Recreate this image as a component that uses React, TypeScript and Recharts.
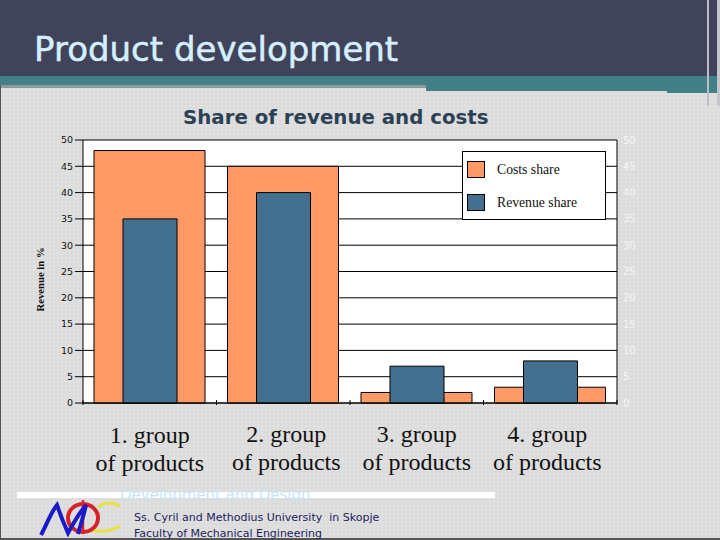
import React from "react";
import { Bar, BarChart, CartesianGrid, Legend, XAxis, YAxis } from "recharts";

const groups = ["1. group", "2. group", "3. group", "4. group"];
const costsShare = [48, 45, 2, 3];
const revenueShare = [35, 40, 7, 8];
const yTicks = [0, 5, 10, 15, 20, 25, 30, 35, 40, 45, 50];

const COST = "#ff9966";
const REVENUE = "#44708f";

const data = groups.map((group, i) => ({
  group,
  costs: costsShare[i],
  revenue: revenueShare[i],
}));

// the slide's labels don't sit exactly on the band centres
const labelShift = [
  { dx: 0, dy: 1 },
  { dx: 3, dy: 0 },
  { dx: 0, dy: 0 },
  { dx: -3, dy: 0 },
];

// tick marks sit between the groups, not under them
function GroupTick({ x, y, payload, index }: any) {
  const s = labelShift[index] || { dx: 0, dy: 0 };
  const half = payload.offset || 0;
  return (
    <g>
      <line x1={x + half} x2={x + half} y1={y - 11} y2={y - 6} stroke="#000" />
      {index === 0 && <line x1={x - half} x2={x - half} y1={y - 11} y2={y - 6} stroke="#000" />}
      <text
        x={x + s.dx}
        y={y + s.dy}
        textAnchor="middle"
        fontFamily="'Liberation Serif', serif"
        fontSize={24}
        fill="#111"
      >
        <tspan x={x + s.dx} dy={31}>{payload.value}</tspan>
        <tspan x={x + s.dx} dy={28}>of products</tspan>
      </text>
    </g>
  );
}

function LegendBox() {
  const rows = [
    { name: "Costs share", color: COST },
    { name: "Revenue share", color: REVENUE },
  ];
  return (
    <div
      style={{
        width: 142,
        height: 67,
        background: "#fff",
        border: "1px solid #000",
        position: "relative",
        fontFamily: "'Liberation Serif', serif",
        fontSize: 13.7,
        color: "#111",
      }}
    >
      {rows.map((r, i) => (
        <div key={r.name} style={{ position: "absolute", left: 4, top: 9 + i * 33, display: "flex", alignItems: "center" }}>
          <span style={{ width: 16, height: 15, background: r.color, border: "1px solid #000", display: "inline-block" }} />
          <span style={{ marginLeft: 12 }}>{r.name}</span>
        </div>
      ))}
    </div>
  );
}

function Logo() {
  return (
    <svg width={90} height={44} style={{ position: "absolute", left: 36, top: 496 }}>
      <path d="M84 10 C72 4 66 8 62 11" fill="none" stroke="#e6e23c" strokeWidth={3} />
      <path d="M84 30 C74 36 62 36 56 34" fill="none" stroke="#e6e23c" strokeWidth={3} />
      <ellipse cx={47} cy={22} rx={15} ry={14} fill="none" stroke="#d8222a" strokeWidth={4} />
      <line x1={47} y1={4} x2={47} y2={38} stroke="#d8222a" strokeWidth={2.5} />
      <path d="M5 39 C10 30 15 16 21 9 C24 18 28 28 32 37 C38 26 44 16 50 9 C48 18 45 28 42 38" fill="none" stroke="#1a1ac8" strokeWidth={4} />
    </svg>
  );
}

export default function App() {
  return (
    <div
      style={{
        position: "absolute",
        left: 0,
        top: 0,
        width: 720,
        height: 540,
        overflow: "hidden",
        backgroundColor: "#dcdcdc",
        backgroundImage: "radial-gradient(#e2e2e2 1px, transparent 1px)",
        backgroundSize: "4px 4px",
      }}
    >
      <div style={{ position: "absolute", left: 0, top: 0, width: 720, height: 76, background: "#41435a" }} />
      <div style={{ position: "absolute", left: 0, top: 76, width: 720, height: 9, background: "#437f86" }} />
      <div style={{ position: "absolute", left: 0, top: 85, width: 426, height: 3, background: "#8a9ca0" }} />
      <div style={{ position: "absolute", left: 426, top: 85, width: 294, height: 6, background: "#437f86" }} />
      <div style={{ position: "absolute", left: 667, top: 91, width: 53, height: 2, background: "#437f86" }} />
      <div style={{ position: "absolute", left: 707, top: 0, width: 2, height: 106, background: "#b9bcc6" }} />
      <div style={{ position: "absolute", left: 717, top: 0, width: 3, height: 106, background: "#c4c6ce" }} />
      <div style={{ position: "absolute", left: 0, top: 85, width: 1, height: 455, background: "#555" }} />
      <div style={{ position: "absolute", left: 0, top: 538, width: 720, height: 2, background: "#555" }} />

      <div style={{ position: "absolute", left: 34, top: 29, fontFamily: "'DejaVu Sans', sans-serif", fontSize: 34, color: "#d4efff", whiteSpace: "nowrap", WebkitTextStroke: "0.5px #d4efff" }}>
        Product development
      </div>
      <div style={{ position: "absolute", left: 183, top: 106, fontFamily: "'DejaVu Sans', sans-serif", fontWeight: 700, fontSize: 19.8, color: "#2c4254", whiteSpace: "nowrap" }}>
        Share of revenue and costs
      </div>

      <div style={{ position: "absolute", left: 0, top: 130 }}>
        <BarChart
          width={680}
          height={350}
          data={data}
          margin={{ top: 10, right: 33, bottom: 0, left: 32 }}
        >
          <CartesianGrid vertical={false} stroke="#000" fill="#fff" syncWithTicks yAxisId="left" />
          <XAxis
            xAxisId="cost"
            dataKey="group"
            height={77}
            axisLine={{ stroke: "#000" }}
            tickLine={false}
            interval={0}
            tick={<GroupTick />}
          />
          <XAxis xAxisId="rev" dataKey="group" hide />
          <YAxis
            yAxisId="left"
            domain={[0, 50]}
            ticks={yTicks}
            width={51}
            interval={0}
            tickSize={8}
            stroke="#000"
            tick={{ fill: "#111", fontSize: 9.5, fontFamily: "'DejaVu Sans', sans-serif" }}
            label={{
              value: "Revenue in  %",
              angle: -90,
              position: "insideLeft",
              offset: 8,
              dy: 40,
              fill: "#111",
              fontSize: 10.7,
              fontWeight: 700,
              fontFamily: "'Liberation Serif', serif",
            }}
          />
          <YAxis
            yAxisId="right"
            orientation="right"
            domain={[0, 50]}
            ticks={yTicks}
            width={30}
            interval={0}
            tickSize={0}
            tickMargin={6}
            axisLine={{ stroke: "#000" }}
            tick={{ fill: "#f4f4f4", fontSize: 10, fontFamily: "'DejaVu Sans', sans-serif" }}
          />
          <Bar
            dataKey="costs"
            name="Costs share"
            xAxisId="cost"
            yAxisId="left"
            barSize={111}
            fill={COST}
            stroke="#000"
            isAnimationActive={false}
          />
          <Bar
            dataKey="revenue"
            name="Revenue share"
            xAxisId="rev"
            yAxisId="right"
            barSize={54}
            fill={REVENUE}
            stroke="#000"
            isAnimationActive={false}
          />
          <Legend
            layout="horizontal"
            verticalAlign="middle"
            content={<LegendBox />}
            wrapperStyle={{ left: 462, top: 21, width: 144, height: 69, bottom: "auto" }}
          />
        </BarChart>
      </div>

      <div style={{ position: "absolute", left: 17, top: 492, width: 478, height: 6, background: "#fff" }} />
      <div style={{ position: "absolute", left: 120, top: 486, fontFamily: "'DejaVu Sans', sans-serif", fontSize: 15, color: "#c8e4f4", whiteSpace: "nowrap" }}>
        Development and Design
      </div>
      <Logo />
      <div style={{ position: "absolute", left: 134, top: 511, fontFamily: "'DejaVu Sans', sans-serif", fontSize: 11, color: "#1c2260", whiteSpace: "pre" }}>
        {"Ss. Cyril and Methodius University  in Skopje"}
      </div>
      <div style={{ position: "absolute", left: 134, top: 527, fontFamily: "'DejaVu Sans', sans-serif", fontSize: 11, color: "#1c2260", whiteSpace: "pre" }}>
        Faculty of Mechanical Engineering
      </div>
    </div>
  );
}
